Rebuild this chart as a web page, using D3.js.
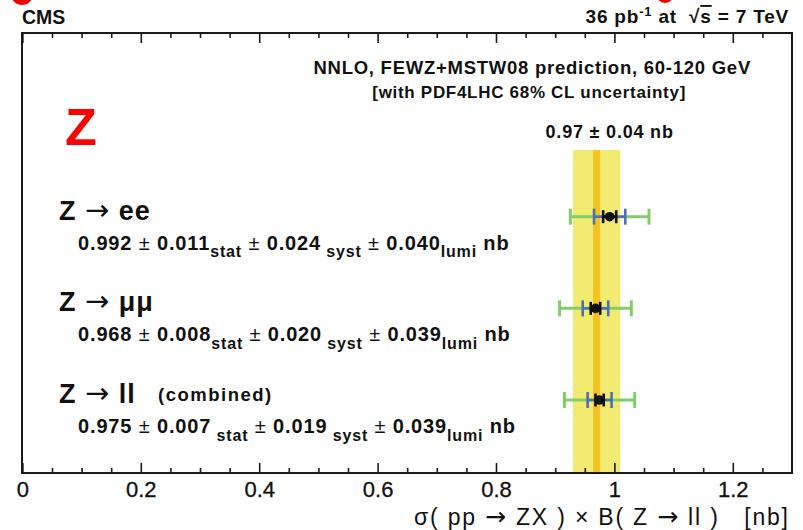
<!DOCTYPE html>
<html>
<head>
<meta charset="utf-8">
<script src="https://cdn.jsdelivr.net/npm/d3@7"></script>
<style>
  html, body { margin: 0; padding: 0; background: #fff; }
  svg { display: block; }
  text { font-family: "Liberation Sans", Arial, Helvetica, sans-serif; fill: #111; }
  .arrow { font-family: "DejaVu Sans", sans-serif; font-weight: normal; }
</style>
</head>
<body>
<svg id="chart" width="803" height="530"></svg>
<script>
// Measured Z cross sections per channel (nb)
const channels = ["ee", "mumu", "ll"];
const channelFinal = ["ee", "\u03BC\u03BC", "ll"];
const values = [0.992, 0.968, 0.975];
const statErr = [0.011, 0.008, 0.007];
const systErr = [0.024, 0.020, 0.019];
const lumiErr = [0.040, 0.039, 0.039];

// Theory prediction (NNLO) and its uncertainty
const theoryValue = 0.97;
const theoryErr = 0.04;

// Axis ticks
const majorTicks = [0, 0.2, 0.4, 0.6, 0.8, 1.0, 1.2];
const majorTickLabels = ["0", "0.2", "0.4", "0.6", "0.8", "1", "1.2"];
const minorTicks = [0.05, 0.1, 0.15, 0.25, 0.3, 0.35, 0.45, 0.5, 0.55, 0.65, 0.7, 0.75,
                    0.85, 0.9, 0.95, 1.05, 1.1, 1.15, 1.25];

const svg = d3.select("#chart");
const frame = { left: 22, right: 792, top: 33, bottom: 473 };

const x = d3.scaleLinear().domain([0, 1.3]).range([22.4, 792]);
const y = d3.scalePoint().domain(channels).range([216.7, 400]);

// decorative red marks along the top edge
svg.append("circle").attr("cx", 22).attr("cy", -6).attr("r", 11).attr("fill", "#f00000");
svg.append("circle").attr("cx", 665).attr("cy", -6).attr("r", 9).attr("fill", "#f00000");

// theory band
const bandTop = 150;
svg.append("rect")
  .attr("x", x(theoryValue - theoryErr)).attr("y", bandTop)
  .attr("width", x(theoryValue + theoryErr) - x(theoryValue - theoryErr))
  .attr("height", frame.bottom - bandTop)
  .attr("fill", "#f1eb72");
svg.append("rect")
  .attr("x", x(theoryValue) - 3.5).attr("y", bandTop)
  .attr("width", 7).attr("height", frame.bottom - bandTop)
  .attr("fill", "#f5c220");

svg.append("text")
  .attr("x", x(theoryValue) + 13).attr("y", 138)
  .attr("text-anchor", "middle")
  .attr("font-size", 18).attr("font-weight", "bold").attr("letter-spacing", 0.8)
  .text(`${theoryValue.toFixed(2)} \u00B1 ${theoryErr.toFixed(2)} nb`);

// axes (ticks point into the frame)
function styleAxis(g) {
  g.select(".domain").remove();
  g.selectAll(".tick line").attr("stroke", "#1a1a1a").attr("stroke-width", 1.6);
}
const bottomMajor = svg.append("g").attr("transform", `translate(0,${frame.bottom})`)
  .call(d3.axisBottom(x).tickValues(majorTicks).tickSize(-10)
    .tickFormat((d, i) => majorTickLabels[i]));
styleAxis(bottomMajor);
bottomMajor.selectAll(".tick text")
  .attr("y", 24).attr("dy", null)
  .attr("font-size", 22).attr("fill", "#111").attr("font-family", null)
  .attr("stroke", "#111").attr("stroke-width", 0.3);

const bottomMinor = svg.append("g").attr("transform", `translate(0,${frame.bottom})`)
  .call(d3.axisBottom(x).tickValues(minorTicks).tickSize(-5).tickFormat(""));
styleAxis(bottomMinor);

const topMajor = svg.append("g").attr("transform", `translate(0,${frame.top})`)
  .call(d3.axisTop(x).tickValues(majorTicks).tickSize(-10).tickFormat(""));
styleAxis(topMajor);
const topMinor = svg.append("g").attr("transform", `translate(0,${frame.top})`)
  .call(d3.axisTop(x).tickValues(minorTicks).tickSize(-5).tickFormat(""));
styleAxis(topMinor);

// frame
svg.append("rect")
  .attr("x", frame.left).attr("y", frame.top)
  .attr("width", frame.right - frame.left).attr("height", frame.bottom - frame.top)
  .attr("fill", "none").attr("stroke", "#1a1a1a").attr("stroke-width", 2);

// axis title
const xTitle = svg.append("text")
  .attr("x", 414).attr("y", 525)
  .attr("font-size", 23)
  .attr("textLength", 374).attr("lengthAdjust", "spacing")
  .style("white-space", "pre");
xTitle.append("tspan").text("\u03C3( pp ");
xTitle.append("tspan").attr("class", "arrow").attr("font-size", 25).text("\u2192");
xTitle.append("tspan").text(" ZX ) \u00D7 B( Z ");
xTitle.append("tspan").attr("class", "arrow").attr("font-size", 25).text("\u2192");
xTitle.append("tspan").text(" ll )   [nb]");

// measurements with nested error bars
const rows = channels.map((c, i) => {
  const statSyst = Math.sqrt(statErr[i] ** 2 + systErr[i] ** 2);
  return { c, i, v: values[i], stat: statErr[i], statSyst, total: statSyst + lumiErr[i] };
});

const marks = svg.append("g");
rows.forEach(r => {
  const g = marks.append("g");
  const yy = y(r.c);
  const bar = (half, color, width, cap) => {
    g.append("line").attr("x1", x(r.v - half)).attr("x2", x(r.v + half))
      .attr("y1", yy).attr("y2", yy).attr("stroke", color).attr("stroke-width", width);
    [-1, 1].forEach(s => g.append("line")
      .attr("x1", x(r.v + s * half)).attr("x2", x(r.v + s * half))
      .attr("y1", yy - cap / 2).attr("y2", yy + cap / 2)
      .attr("stroke", color).attr("stroke-width", width));
  };
  bar(r.total, "#84cc68", 3, 16);
  bar(r.statSyst, "#4f6fb3", 2.6, 16);
  bar(r.stat, "#111", 2.6, 13);
  g.append("circle").attr("cx", x(r.v)).attr("cy", yy).attr("r", 4.8).attr("fill", "#111");
});

// channel labels
rows.forEach(r => {
  const yy = y(r.c);
  const t = svg.append("text").attr("x", 59).attr("y", yy + 3)
    .attr("font-size", 27).attr("font-weight", "bold").attr("letter-spacing", 1)
    .style("white-space", "pre");
  t.append("tspan").text("Z ");
  t.append("tspan").attr("class", "arrow").attr("font-size", 29).text("\u2192");
  t.append("tspan").text(" " + channelFinal[r.i]);
  if (r.c === "ll") {
    svg.append("text").attr("x", 158).attr("y", yy + 1)
      .attr("font-size", 18.5).attr("font-weight", "bold").attr("letter-spacing", 1.5)
      .text("(combined)");
  }

  const v = svg.append("text").attr("x", 78).attr("y", yy + 33)
    .attr("font-size", 20).attr("font-weight", "bold").attr("letter-spacing", 0.85)
    .style("white-space", "pre");
  const sub = (s) => v.append("tspan").attr("font-size", 16).attr("dy", 7.5).text(s);
  const back = (s) => v.append("tspan").attr("dy", -7.5).text(s);
  v.append("tspan").text(`${r.v.toFixed(3)}`);
  v.append("tspan").attr("font-weight", "normal").text(" \u00B1 ");
  v.append("tspan").text(`${r.stat.toFixed(3)}`);
  sub(r.c === "ll" ? " stat" : "stat");
  back(" \u00B1 ").attr("font-weight", "normal");
  v.append("tspan").text(`${systErr[r.i].toFixed(3)}`);
  sub(" syst");
  back(" \u00B1 ").attr("font-weight", "normal");
  v.append("tspan").text(`${lumiErr[r.i].toFixed(3)}`);
  sub("lumi");
  back(" nb");
});

// big red Z label
svg.append("text").attr("x", 65).attr("y", 145)
  .attr("font-size", 52).attr("font-weight", "bold").style("fill", "#ff0000").text("Z");

// header texts
svg.append("text").attr("x", 22).attr("y", 24)
  .attr("font-size", 19.5).attr("font-weight", "bold").text("CMS");

const lumiText = svg.append("text").attr("x", 789).attr("y", 23)
  .attr("text-anchor", "end").attr("font-size", 19).attr("font-weight", "bold")
  .attr("letter-spacing", 0.8).style("white-space", "pre");
lumiText.append("tspan").text("36 pb");
lumiText.append("tspan").attr("font-size", 13).attr("dy", -7).text("-1");
lumiText.append("tspan").attr("dy", 7).text(" at  \u221A");
lumiText.append("tspan").style("text-decoration", "overline").text("s");
lumiText.append("tspan").text(" = 7 TeV");

svg.append("text").attr("x", 751).attr("y", 74)
  .attr("text-anchor", "end").attr("font-size", 18.5).attr("font-weight", "bold")
  .attr("letter-spacing", 0.75)
  .text("NNLO, FEWZ+MSTW08 prediction, 60-120 GeV");
svg.append("text").attr("x", 686).attr("y", 98)
  .attr("text-anchor", "end").attr("font-size", 17).attr("font-weight", "bold")
  .attr("letter-spacing", 0.7)
  .text("[with PDF4LHC 68% CL uncertainty]");
</script>
</body>
</html>
